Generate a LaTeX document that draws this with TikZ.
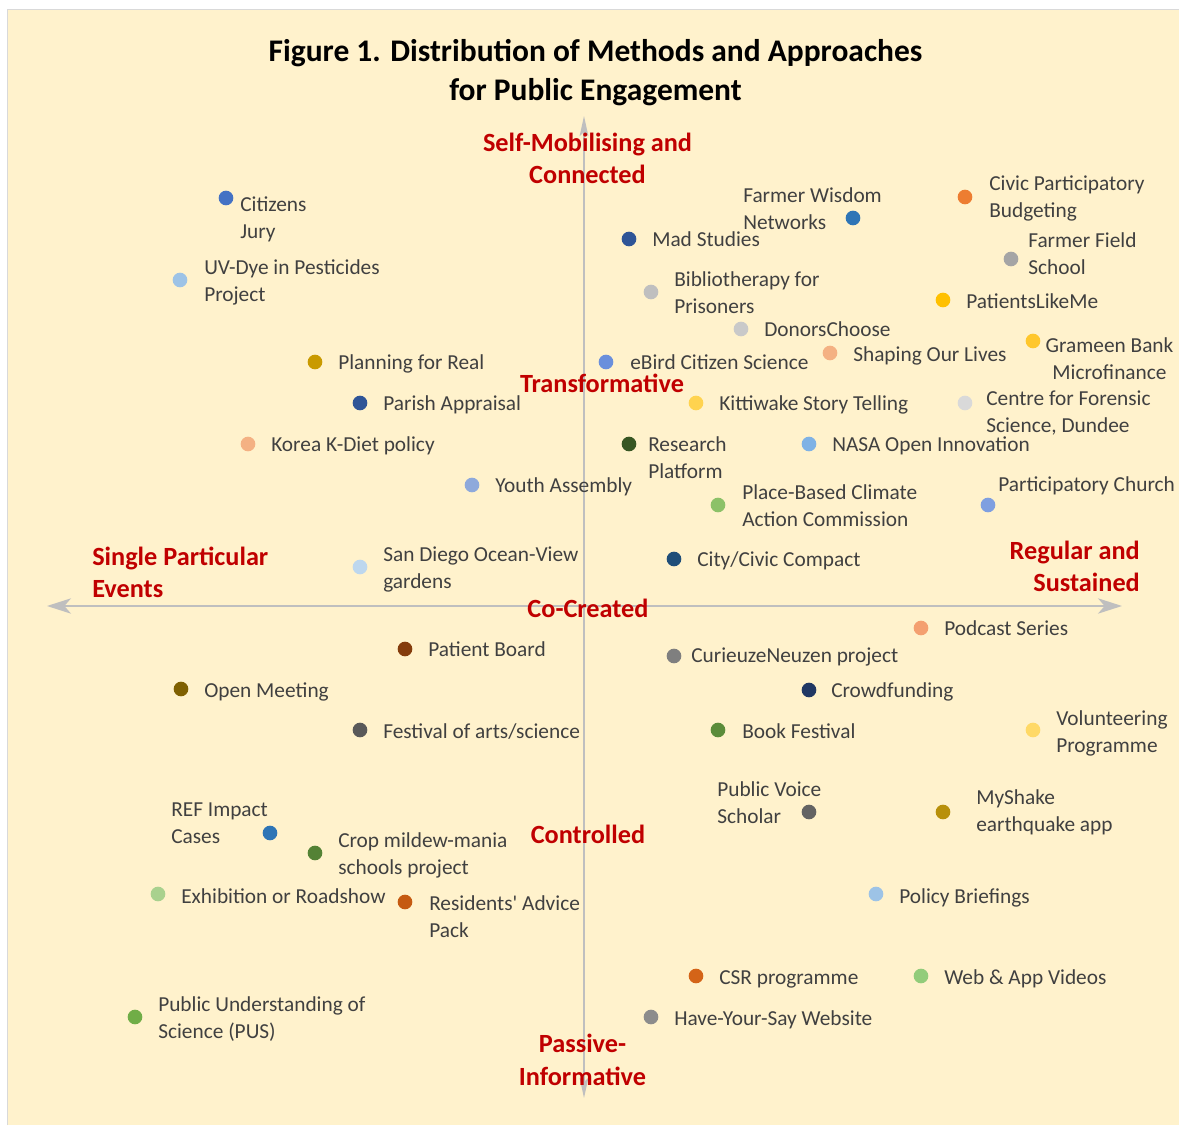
\documentclass[tikz,border=0pt]{standalone}
\usepackage{fontspec}
\setmainfont{Carlito}
\usetikzlibrary{arrows.meta}

\definecolor{paper}{HTML}{FFF2CC}
\definecolor{framegray}{HTML}{D9D9D9}
\definecolor{axisgray}{HTML}{BFBFBF}
\definecolor{labelgray}{HTML}{404040}
\definecolor{headred}{HTML}{C00000}
% dot colours
\definecolor{cBlue}{HTML}{4472C4}
\definecolor{cMidBlue}{HTML}{2E75B6}
\definecolor{cOrange}{HTML}{ED7D31}
\definecolor{cNavy}{HTML}{2F5597}
\definecolor{cGray}{HTML}{A5A5A5}
\definecolor{cLtGray}{HTML}{BFBFBF}
\definecolor{cGold}{HTML}{FFC000}
\definecolor{cPaleGray}{HTML}{C9C9C9}
\definecolor{cPeach}{HTML}{F4B183}
\definecolor{cAmber}{HTML}{FFC72C}
\definecolor{cCornflower}{HTML}{6A8FDC}
\definecolor{cYellow}{HTML}{FFD34F}
\definecolor{cVltGray}{HTML}{D9D9D9}
\definecolor{cDkGreen}{HTML}{375623}
\definecolor{cSky}{HTML}{7FB2E5}
\definecolor{cLtGreen}{HTML}{8CC168}
\definecolor{cPeriwinkle}{HTML}{7F9FE0}
\definecolor{cDeepBlue}{HTML}{1F4E79}
\definecolor{cPaleBlue}{HTML}{9DC3E6}
\definecolor{cOchre}{HTML}{C99A00}
\definecolor{cLavBlue}{HTML}{8EA9DB}
\definecolor{cIceBlue}{HTML}{BDD7EE}
\definecolor{cBrown}{HTML}{843C0C}
\definecolor{cOlive}{HTML}{7F6000}
\definecolor{cCharcoal}{HTML}{595959}
\definecolor{cGreen}{HTML}{548235}
\definecolor{cMint}{HTML}{A9D18E}
\definecolor{cRust}{HTML}{C55A11}
\definecolor{cGrass}{HTML}{70AD47}
\definecolor{cSalmon}{HTML}{F4A070}
\definecolor{cMidGray}{HTML}{7F7F7F}
\definecolor{cDarkNavy}{HTML}{203864}
\definecolor{cBookGreen}{HTML}{5B8C3A}
\definecolor{cLemon}{HTML}{FFD966}
\definecolor{cSlate}{HTML}{636363}
\definecolor{cMustard}{HTML}{B8900A}
\definecolor{cCsr}{HTML}{D46418}
\definecolor{cWebGreen}{HTML}{92CC7A}
\definecolor{cSayGray}{HTML}{8C8C8C}

\begin{document}
\begin{tikzpicture}[x=0.75pt,y=0.75pt,yscale=-1,xscale=1,
  dot/.style={circle,inner sep=0pt,minimum size=11pt,fill=#1},
  lbl/.style={anchor=base west,inner sep=0pt,align=left,text=labelgray,font=\fontsize{16pt}{19.9pt}\selectfont},
  axislbl/.style={anchor=base,inner sep=0pt,align=center,text=headred,font=\fontsize{19.7pt}{24.6pt}\selectfont\bfseries},
  haxis/.style={draw=axisgray,line width=1.5pt,{Stealth[length=18pt,width=11.5pt,inset=5pt]}-{Stealth[length=18pt,width=11.5pt,inset=5pt]}},
  vaxis/.style={draw=axisgray,line width=1.5pt,{Stealth[length=15pt,width=6.5pt,inset=3pt]}-{Stealth[length=15pt,width=6.5pt,inset=3pt]}}]
\useasboundingbox (0,0) rectangle (1179,1126);

%Background
\fill[paper] (7.5,9.5) rectangle (1190,1125);
\draw[framegray,line width=1pt] (7.5,1125) -- (7.5,9.5) -- (1190,9.5);

%Title
\node[anchor=base,inner sep=0pt,align=center,font=\fontsize{23.6pt}{29.4pt}\selectfont\bfseries] (title) at (595.5,101) {Figure 1. Distribution of Methods and Approaches\\for Public Engagement};

%Axes
\coordinate (west) at (47,606);
\coordinate (east) at (1122,606);
\coordinate (north) at (584,116);
\coordinate (south) at (584,1098);
\draw[haxis] (west) -- (east);
\draw[vaxis] (north) -- (south);

%Axis labels
\node[axislbl] (selfmob) at (587.5,184) {Self-Mobilising and\\Connected};
\node[axislbl] (transf) at (602,393) {Transformative};
\node[axislbl,anchor=base west,align=left] (single) at (92,598) {Single Particular\\Events};
\node[axislbl,anchor=base east,align=right] (regular) at (1140,592) {Regular and\\Sustained};
\node[axislbl] (cocreat) at (588,618) {Co-Created};
\node[axislbl] (control) at (588,843) {Controlled};
\node[axislbl] (passive) at (582.5,1085) {Passive-\\Informative};

%Upper left
\node[dot=cBlue] (citjury) at (226,198) {};
\node[lbl] (citjury-t) at (240,238.5) {Citizens\\Jury};
\node[dot=cPaleBlue] (uvdye) at (180,280) {};
\node[lbl] (uvdye-t) at (204,301.5) {UV-Dye in Pesticides\\Project};
\node[dot=cOchre] (planreal) at (315,362) {};
\node[lbl] (planreal-t) at (338,370) {Planning for Real};
\node[dot=cNavy] (parish) at (360,403) {};
\node[lbl] (parish-t) at (383,411) {Parish Appraisal};
\node[dot=cPeach] (kdiet) at (248,444) {};
\node[lbl] (kdiet-t) at (271,452) {Korea K-Diet policy};
\node[dot=cLavBlue] (youth) at (472,485) {};
\node[lbl] (youth-t) at (495,493) {Youth Assembly};
\node[dot=cIceBlue] (sandiego) at (360,567) {};
\node[lbl] (sandiego-t) at (383,588.5) {San Diego Ocean-View\\gardens};

%Upper right
\node[dot=cMidBlue] (wisdom) at (853,218) {};
\node[lbl] (wisdom-t) at (743,229.5) {Farmer Wisdom\\Networks};
\node[dot=cOrange] (civicbud) at (965,197) {};
\node[lbl] (civicbud-t) at (989,217.5) {Civic Participatory\\Budgeting};
\node[dot=cNavy] (mad) at (629,239) {};
\node[lbl] (mad-t) at (652,247) {Mad Studies};
\node[dot=cGray] (fieldsch) at (1011,259) {};
\node[lbl] (fieldsch-t) at (1028,274.5) {Farmer Field\\School};
\node[dot=cLtGray] (biblio) at (651,292) {};
\node[lbl] (biblio-t) at (674,313.5) {Bibliotherapy for\\Prisoners};
\node[dot=cGold] (plm) at (943,300) {};
\node[lbl] (plm-t) at (966,309) {PatientsLikeMe};
\node[dot=cPaleGray] (donors) at (741,329) {};
\node[lbl] (donors-t) at (764,337) {DonorsChoose};
\node[dot=cPeach] (shaping) at (830,353) {};
\node[lbl] (shaping-t) at (853,362) {Shaping Our Lives};
\node[dot=cAmber] (grameen) at (1033,341) {};
\node[lbl,anchor=base,align=center] (grameen-t) at (1109.5,379.5) {Grameen Bank\\Microfinance};
\node[dot=cCornflower] (ebird) at (606,362) {};
\node[lbl] (ebird-t) at (630,370) {eBird Citizen Science};
\node[dot=cYellow] (kitti) at (696,403) {};
\node[lbl] (kitti-t) at (719,411) {Kittiwake Story Telling};
\node[dot=cVltGray] (forensic) at (965,403) {};
\node[lbl] (forensic-t) at (986,432.5) {Centre for Forensic\\Science, Dundee};
\node[dot=cDkGreen] (research) at (629,444) {};
\node[lbl] (research-t) at (648,478.5) {Research\\Platform};
\node[dot=cSky] (nasa) at (809,444) {};
\node[lbl] (nasa-t) at (832,452) {NASA Open Innovation};
\node[dot=cLtGreen] (climate) at (718,505) {};
\node[lbl] (climate-t) at (742,526.5) {Place-Based Climate\\Action Commission};
\node[dot=cPeriwinkle] (church) at (988,505) {};
\node[lbl] (church-t) at (998,492) {Participatory Church};
\node[dot=cDeepBlue] (compact) at (674,559) {};
\node[lbl] (compact-t) at (697,567) {City/Civic Compact};

%Lower left
\node[dot=cBrown] (patboard) at (405,649) {};
\node[lbl] (patboard-t) at (428,657) {Patient Board};
\node[dot=cOlive] (openmeet) at (181,689) {};
\node[lbl] (openmeet-t) at (204,698) {Open Meeting};
\node[dot=cCharcoal] (festival) at (360,730) {};
\node[lbl] (festival-t) at (383,739) {Festival of arts/science};
\node[dot=cMidBlue] (refcase) at (270,833) {};
\node[lbl] (refcase-t) at (171,843.5) {REF Impact\\Cases};
\node[dot=cGreen] (crop) at (315,853) {};
\node[lbl] (crop-t) at (338,874.5) {Crop mildew-mania\\schools project};
\node[dot=cMint] (exhib) at (158,894) {};
\node[lbl] (exhib-t) at (181,903) {Exhibition or Roadshow};
\node[dot=cRust] (resid) at (405,902) {};
\node[lbl] (resid-t) at (429,937.5) {Residents\textquotesingle\ Advice\\Pack};
\node[dot=cGrass] (pus) at (135,1017) {};
\node[lbl] (pus-t) at (158,1038.5) {Public Understanding of\\Science (PUS)};

%Lower right
\node[dot=cSalmon] (podcast) at (921,628) {};
\node[lbl] (podcast-t) at (944,636) {Podcast Series};
\node[dot=cMidGray] (curieuze) at (674,656) {};
\node[lbl] (curieuze-t) at (691,663) {CurieuzeNeuzen project};
\node[dot=cDarkNavy] (crowd) at (809,690) {};
\node[lbl] (crowd-t) at (831,698) {Crowdfunding};
\node[dot=cBookGreen] (bookfest) at (718,730) {};
\node[lbl] (bookfest-t) at (742,739) {Book Festival};
\node[dot=cLemon] (volunt) at (1033,730) {};
\node[lbl] (volunt-t) at (1056,752.5) {Volunteering\\Programme};
\node[dot=cSlate] (voice) at (809,812) {};
\node[lbl] (voice-t) at (717,823.5) {Public Voice\\Scholar};
\node[dot=cMustard] (myshake) at (943,812) {};
\node[lbl] (myshake-t) at (976,831.5) {MyShake\\earthquake app};
\node[dot=cPaleBlue] (policy) at (876,894) {};
\node[lbl] (policy-t) at (899,903) {Policy Briefings};
\node[dot=cCsr] (csr) at (696,976) {};
\node[lbl] (csr-t) at (719,984) {CSR programme};
\node[dot=cWebGreen] (webapp) at (921,976) {};
\node[lbl] (webapp-t) at (944,984) {Web \& App Videos};
\node[dot=cSayGray] (haveyour) at (651,1017) {};
\node[lbl] (haveyour-t) at (674,1025) {Have-Your-Say Website};

\end{tikzpicture}
\end{document}
